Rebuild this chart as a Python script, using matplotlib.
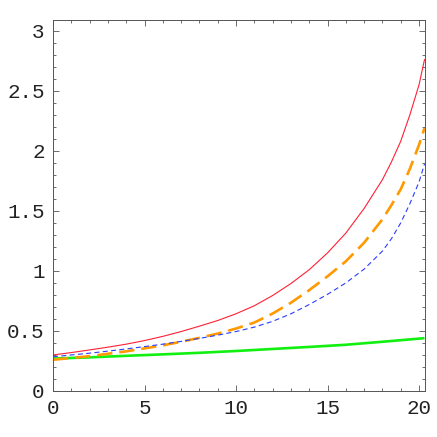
import matplotlib
matplotlib.use("Agg")
import matplotlib.pyplot as plt
from matplotlib.ticker import MultipleLocator

# values
red_x = [0, 1, 2, 3, 4, 5, 6, 7, 8, 9, 10, 11, 12, 13, 14, 15, 16, 17, 18, 18.5, 19, 19.5, 20, 20.3]
red_y = [0.30, 0.32, 0.342, 0.365, 0.39, 0.42, 0.455, 0.495, 0.54, 0.587, 0.643, 0.71, 0.795, 0.895,
         1.01, 1.15, 1.315, 1.52, 1.76, 1.91, 2.08, 2.30, 2.55, 2.76]

orange_x = [0, 1, 2, 3, 4, 5, 6, 7, 8, 9, 10, 11, 12, 13, 14, 15, 16, 17, 18, 18.5, 19, 19.5, 20, 20.3]
orange_y = [0.26, 0.275, 0.29, 0.31, 0.33, 0.355, 0.38, 0.41, 0.443, 0.478, 0.52, 0.57, 0.645, 0.735,
            0.84, 0.955, 1.08, 1.235, 1.43, 1.55, 1.68, 1.85, 2.05, 2.19]

blue_x = [0, 1, 2, 3, 4, 5, 6, 7, 8, 9, 10, 11, 12, 13, 14, 15, 16, 17, 18, 18.5, 19, 19.5, 20, 20.3]
blue_y = [0.285, 0.30, 0.315, 0.332, 0.35, 0.37, 0.39, 0.413, 0.438, 0.465, 0.495, 0.532, 0.58, 0.643,
          0.72, 0.805, 0.90, 1.015, 1.165, 1.27, 1.40, 1.56, 1.74, 1.89]

green_x = [0, 2, 4, 6, 8, 10, 12, 14, 16, 18, 20.3]
green_y = [0.27, 0.28, 0.293, 0.305, 0.318, 0.333, 0.35, 0.367, 0.385, 0.41, 0.44]

x_ticks = [0, 5, 10, 15, 20]
y_ticks = [0, 0.5, 1, 1.5, 2, 2.5, 3]
y_tick_labels = ["0", "0.5", "1", "1.5", "2", "2.5", "3"]

plt.rcParams["lines.scale_dashes"] = False

fig = plt.figure(figsize=(4.37, 4.37), dpi=100)
ax = fig.add_axes([0.1213, 0.1053, 0.8501, 0.8489])

ax.plot(green_x, green_y, color="#11f011", lw=1.9, solid_capstyle="butt")
ax.plot(red_x, red_y, color="#ff2035", lw=0.8)
ax.plot(orange_x, orange_y, color="#ff9900", lw=1.9, dashes=(11, 5), dash_capstyle="butt")
ax.plot(blue_x, blue_y, color="#2a3cff", lw=0.8, dashes=(3.6, 2.4))

ax.set_xlim(0, 20.3)
ax.set_ylim(0, 3.09)

ax.set_xticks(x_ticks)
ax.set_xticklabels([str(v) for v in x_ticks])
ax.set_yticks(y_ticks)
ax.set_yticklabels(y_tick_labels)
ax.xaxis.set_minor_locator(MultipleLocator(1))
ax.yaxis.set_minor_locator(MultipleLocator(0.1))

for spine in ax.spines.values():
    spine.set_color("#555555")
    spine.set_linewidth(0.7)

ax.tick_params(which="both", direction="in", top=True, right=True, color="#555555", width=0.6)
ax.tick_params(which="major", length=4.5, pad=6)
ax.tick_params(which="minor", length=2.5)
for lab in ax.get_xticklabels() + ax.get_yticklabels():
    lab.set_fontfamily("Liberation Mono")
    lab.set_fontsize(15)
    lab.set_color("#222222")

fig.savefig("out.png", dpi=100)
